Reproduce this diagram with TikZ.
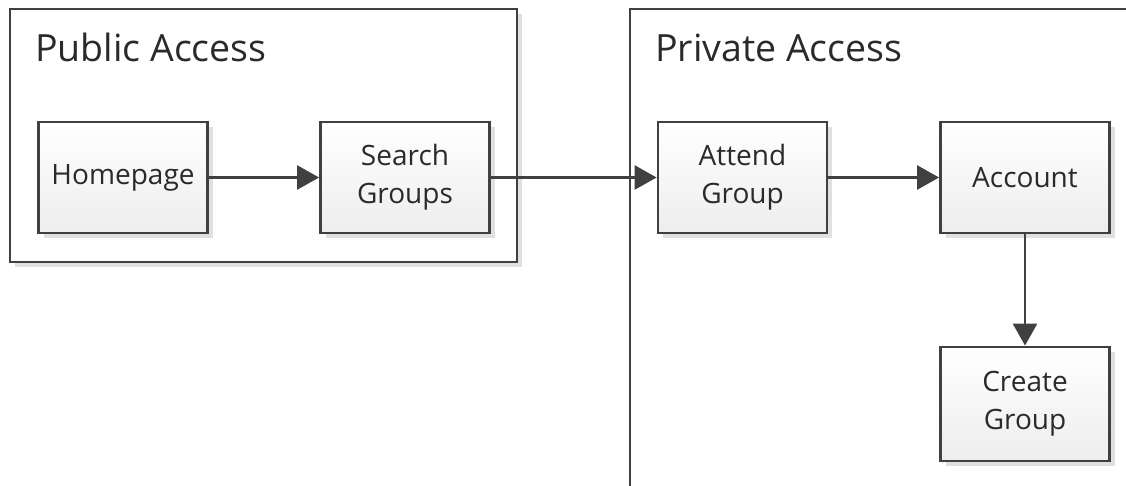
\documentclass[tikz,border=0pt]{standalone}
\usepackage{fontspec}
\setmainfont{Open Sans}
\usetikzlibrary{arrows.meta,shadows}
\definecolor{ln}{HTML}{404040}
\definecolor{tx}{HTML}{2A2A2A}
\begin{document}
\begin{tikzpicture}[x=1pt,y=-1pt,
  box/.style={draw=ln, line width=2.8pt, top color=white, bottom color=black!7,
    minimum width=169pt, minimum height=111pt, align=center, text=tx,
    font=\fontsize{28}{38}\selectfont, inner sep=0pt,
    drop shadow={shadow xshift=5pt, shadow yshift=-5pt, fill=black!12, opacity=1}},
  group/.style={draw=ln, line width=2.8pt},
  title/.style={anchor=base west, text=tx, font=\fontsize{37.5}{42}\selectfont, inner sep=0pt},
  conn/.style={draw=ln, line width=2.6pt, -{Triangle[length=22pt,width=24pt]}}]
\useasboundingbox (0,0) rectangle (1126,486);
% public group
\fill[black!12] (15,14) rectangle (522,267);
\draw[group, fill=white] (10,9) rectangle (517,262);
\node[title] (pubt) at (35,62) {Public Access};
% private group
\draw[group] (630,486) -- (630,9) -- (1126,9);
\node[title] (privt) at (655,62) {Private Access};
% nodes
\node[box] (home) at (123,177.5) {Homepage};
\node[box] (search) at (405,177.5) {Search\\Groups};
\node[box] (attend) at (742.5,177.5) {Attend\\Group};
\node[box] (account) at (1025,177.5) {Account};
\node[box, minimum height=114pt] (create) at (1025,404) {Create\\Group};
% connectors
\draw[conn] (home) -- (search);
\draw[conn] (search) -- (attend);
\draw[conn] (attend) -- (account);
\draw[conn] (account) -- (create);
\end{tikzpicture}
\end{document}
